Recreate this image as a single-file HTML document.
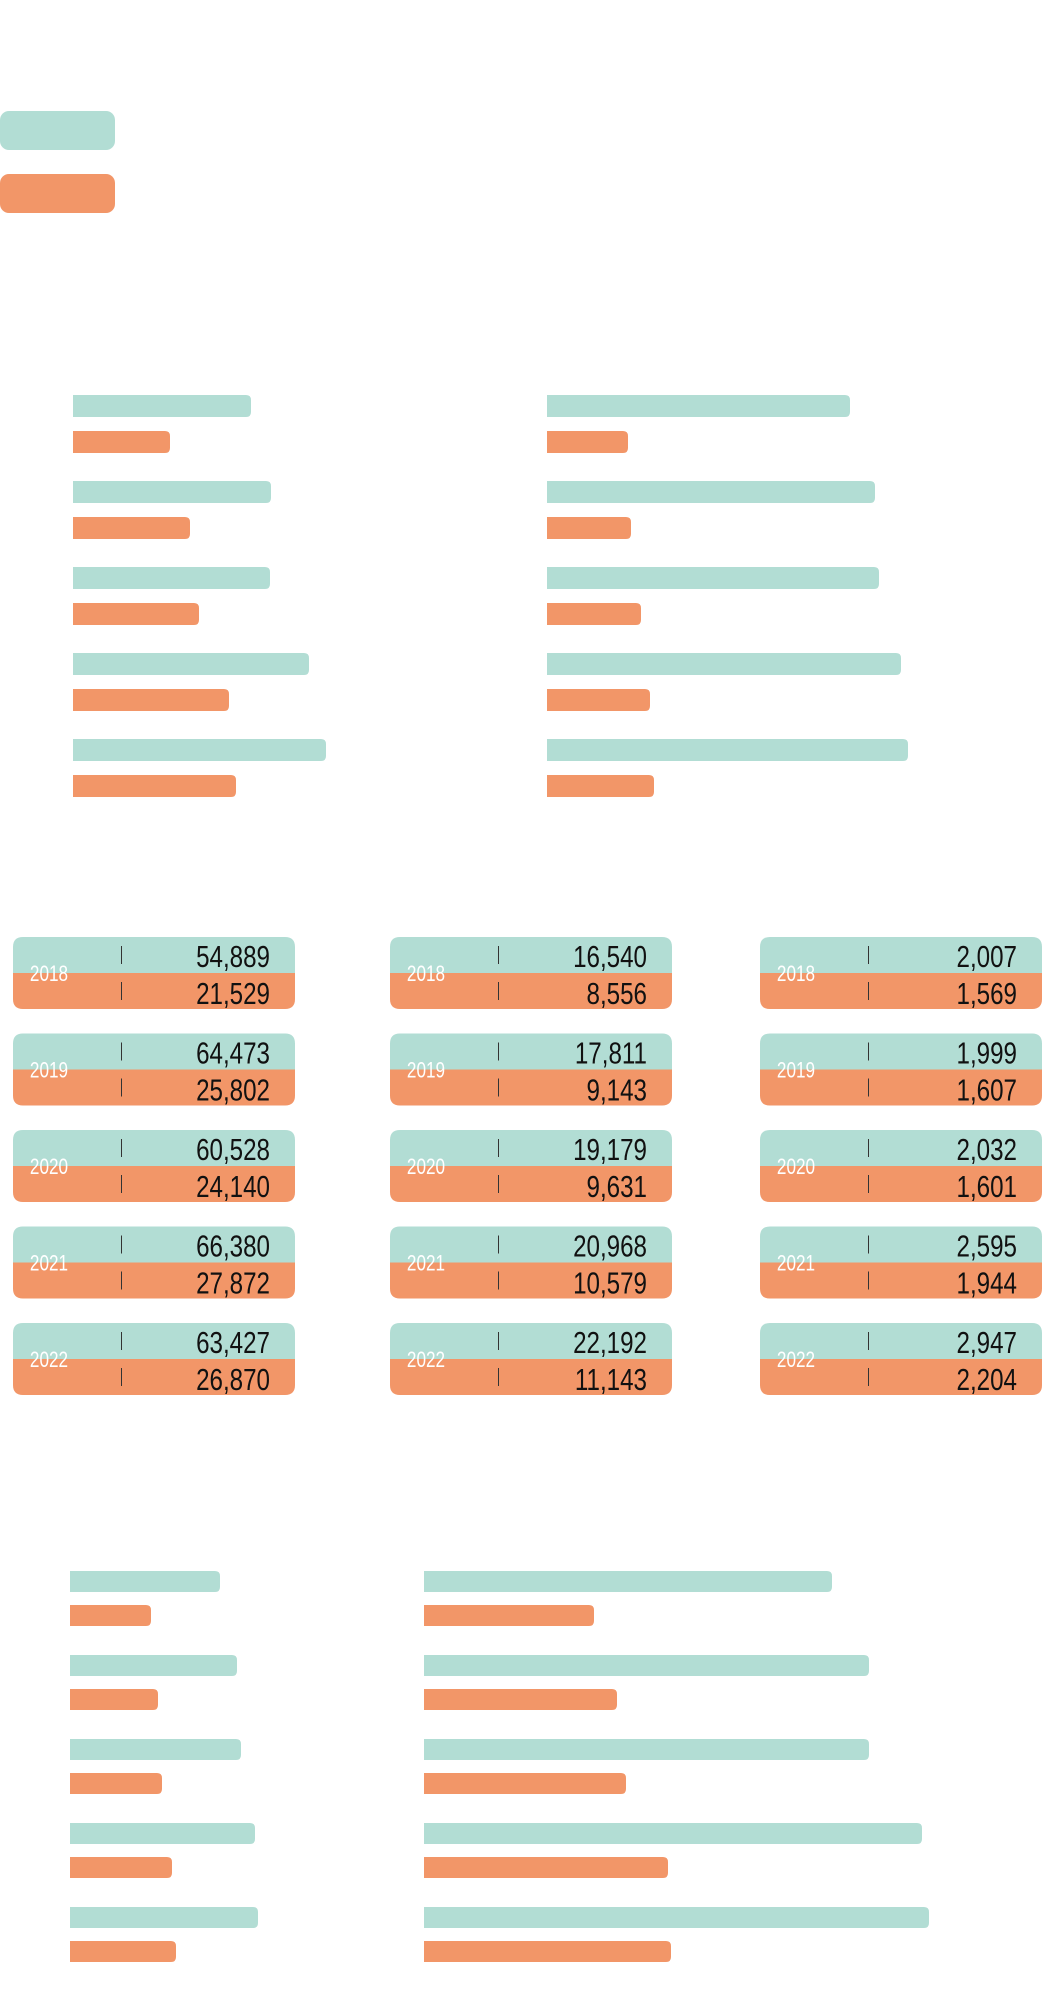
<!DOCTYPE html>
<html><head><meta charset="utf-8"><style>
html,body{margin:0;padding:0;background:#fff;}
body{width:1064px;height:1996px;position:relative;overflow:hidden;font-family:"Liberation Sans",sans-serif;}
svg{position:absolute;left:0;top:0;}
</style></head><body>
<svg id="chart" width="1064" height="1996" xmlns="http://www.w3.org/2000/svg">
<rect x="0" y="111" width="115" height="39" rx="9" fill="#b2ddd4"/>
<rect x="0" y="174" width="115" height="39" rx="9" fill="#f29668"/>
</svg>
<script>
const TEAL="#b2ddd4", ORANGE="#f29668";
const years=["2018","2019","2020","2021","2022"];
// bar chart values (relative units)
const topLeftTeal=[178,198,197,236,253];
const topLeftOrange=[97,117,126,156,163];
const topRightTeal=[303,328,332,354,361];
const topRightOrange=[81,84,94,103,107];
const botLeftTeal=[150,167,171,185,188];
const botLeftOrange=[81,88,92,102,106];
const botRightTeal=[408,445,445,498,505];
const botRightOrange=[170,193,202,244,247];
// card values
const cardA_teal=["54,889","64,473","60,528","66,380","63,427"];
const cardA_orange=["21,529","25,802","24,140","27,872","26,870"];
const cardB_teal=["16,540","17,811","19,179","20,968","22,192"];
const cardB_orange=["8,556","9,143","9,631","10,579","11,143"];
const cardC_teal=["2,007","1,999","2,032","2,595","2,947"];
const cardC_orange=["1,569","1,607","1,601","1,944","2,204"];

const svg=document.getElementById('chart');
const NS="http://www.w3.org/2000/svg";
function xScale(x0){return v=>v;}
function barPath(x,y,w,h,r){
  return `M${x},${y}H${x+w-r}Q${x+w},${y} ${x+w},${y+r}V${y+h-r}Q${x+w},${y+h} ${x+w-r},${y+h}H${x}Z`;
}
function drawBars(name,x0,y0,pitch,bh,gap,teal,orange){
  const sx=xScale(x0);
  teal.forEach((v,i)=>{
    const p=document.createElementNS(NS,'path');
    
    
    p.setAttribute('d',barPath(x0,y0+i*pitch,sx(v),bh,5));
    p.setAttribute('fill',TEAL);
    svg.appendChild(p);
  });
  orange.forEach((v,i)=>{
    const p=document.createElementNS(NS,'path');
    
    
    p.setAttribute('d',barPath(x0,y0+i*pitch+gap,sx(v),bh,5));
    p.setAttribute('fill',ORANGE);
    svg.appendChild(p);
  });
}
drawBars('top-left',73,395,86,22,36,topLeftTeal,topLeftOrange);
drawBars('top-right',547,395,86,22,36,topRightTeal,topRightOrange);
drawBars('bottom-left',70,1571,84,21,34,botLeftTeal,botLeftOrange);
drawBars('bottom-right',424,1571,84,21,34,botRightTeal,botRightOrange);

function txt(x,y,s,size,fill,anchor,name){
  const t=document.createElementNS(NS,'text');
  
  
  t.setAttribute('x',x);t.setAttribute('y',y);
  t.setAttribute('font-size',size);t.setAttribute('fill',fill);
  t.setAttribute('text-anchor',anchor);
  t.setAttribute('font-family','Liberation Sans, sans-serif');
  t.setAttribute('transform',`translate(${x},0) scale(0.78,1) translate(${-x},0)`);
  t.textContent=s;svg.appendChild(t);
}
function drawCards(name,x0,teal,orange){
  const W=282,H=72,R=10;
  years.forEach((yr,i)=>{
    const y=937+i*96.5;
    const g=document.createElementNS(NS,'g');
    
    
    const top=document.createElementNS(NS,'path');
    top.setAttribute('d',`M${x0},${y+R}Q${x0},${y} ${x0+R},${y}H${x0+W-R}Q${x0+W},${y} ${x0+W},${y+R}V${y+H/2}H${x0}Z`);
    top.setAttribute('fill',TEAL);g.appendChild(top);
    const bot=document.createElementNS(NS,'path');
    bot.setAttribute('d',`M${x0},${y+H/2}H${x0+W}V${y+H-R}Q${x0+W},${y+H} ${x0+W-R},${y+H}H${x0+R}Q${x0},${y+H} ${x0},${y+H-R}Z`);
    bot.setAttribute('fill',ORANGE);g.appendChild(bot);
    [y+9,y+45].forEach(ly=>{
      const l=document.createElementNS(NS,'rect');
      l.setAttribute('x',x0+108);l.setAttribute('y',ly);l.setAttribute('width',1);l.setAttribute('height',18);
      l.setAttribute('fill','#333');g.appendChild(l);
    });
    svg.appendChild(g);
    txt(x0+36,y+44,yr,22,'#fff','middle',name+'-year-'+yr);
    txt(x0+257,y+30,teal[i],31,'#111','end',name+'-teal-value-'+yr);
    txt(x0+257,y+67,orange[i],31,'#111','end',name+'-orange-value-'+yr);
  });
}
drawCards('card-col1',13,cardA_teal,cardA_orange);
drawCards('card-col2',390,cardB_teal,cardB_orange);
drawCards('card-col3',760,cardC_teal,cardC_orange);
</script>
</body></html>
